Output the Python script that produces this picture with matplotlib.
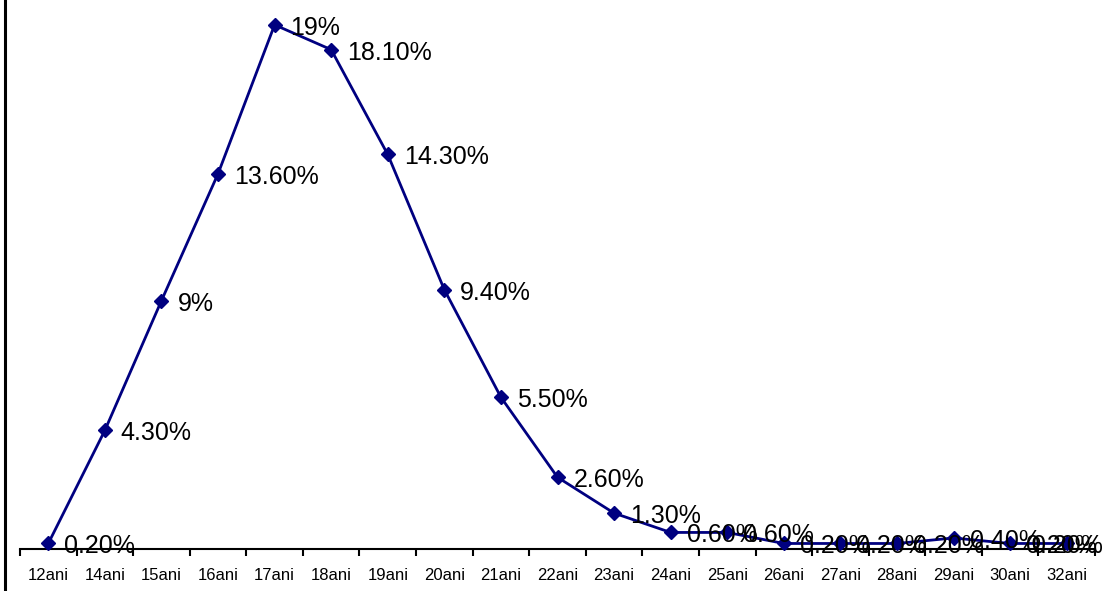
import matplotlib
matplotlib.use("Agg")
import matplotlib.pyplot as plt
from matplotlib.lines import Line2D
from matplotlib import font_manager

categories = ["12ani", "14ani", "15ani", "16ani", "17ani", "18ani", "19ani", "20ani",
              "21ani", "22ani", "23ani", "24ani", "25ani", "26ani", "27ani", "28ani",
              "29ani", "30ani", "32ani"]
values = [0.2, 4.3, 9, 13.6, 19, 18.1, 14.3, 9.4, 5.5, 2.6, 1.3, 0.6, 0.6, 0.2, 0.2, 0.2,
          0.4, 0.2, 0.2]
labels = ["0.20%", "4.30%", "9%", "13.60%", "19%", "18.10%", "14.30%", "9.40%", "5.50%",
          "2.60%", "1.30%", "0.60%", "0.60%", "0.20%", "0.20%", "0.20%", "0.40%", "0.20%",
          "0.20%"]

names = {f.name for f in font_manager.fontManager.ttflist}
fam = "Liberation Sans Narrow" if "Liberation Sans Narrow" in names else "Liberation Sans"
plt.rcParams['font.family'] = [fam, 'DejaVu Sans']

W, H = 1110, 591
fig = plt.figure(figsize=(W / 100, H / 100), dpi=100)
ax = fig.add_axes([20 / W, (H - 549) / H, 1075 / W, 549 / H])

x = list(range(len(categories)))
ax.plot(x, values, color='#000080', lw=2.0, marker='D', ms=7,
        markerfacecolor='#000080', markeredgecolor='#000080', clip_on=False, zorder=3)

for i, (v, lab) in enumerate(zip(values, labels)):
    if i == len(values) - 1:
        ax.annotate(lab, (i, v), xytext=(36, -10), textcoords='offset pixels',
                    ha='right', va='baseline', fontsize=18, color='black',
                    annotation_clip=False, zorder=4)
    else:
        ax.annotate(lab, (i, v), xytext=(16, -10), textcoords='offset pixels',
                    ha='left', va='baseline', fontsize=18, color='black',
                    annotation_clip=False, zorder=4)

ax.set_xlim(-0.5, len(categories) - 0.5)
ax.set_ylim(0, 19.9)
ax.set_xticks(x)
ax.set_xticklabels(categories, fontsize=12)
ax.set_xticks([i - 0.5 for i in range(len(categories) + 1)], minor=True)
ax.tick_params(axis='x', which='major', length=0, pad=14)
ax.tick_params(axis='x', which='minor', length=5, width=1.5, direction='out', color='black')
ax.set_yticks([])
for s in ['top', 'right', 'left']:
    ax.spines[s].set_visible(False)
ax.spines['bottom'].set_linewidth(1.5)
ax.spines['bottom'].set_color('black')
ax.patch.set_alpha(0)

fig.add_artist(Line2D([5 / W, 5 / W], [0, 1], transform=fig.transFigure,
                      color='black', lw=2.2))

fig.savefig("out.png", dpi=100, facecolor='white')
